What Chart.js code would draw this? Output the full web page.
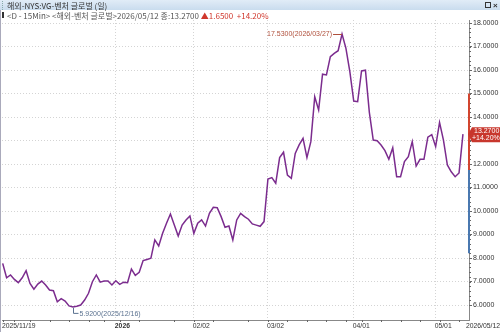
<!DOCTYPE html>
<html><head><meta charset="utf-8">
<script src="https://cdn.jsdelivr.net/npm/chart.js@4.4.1/dist/chart.umd.min.js"></script>
<style>html,body{margin:0;padding:0;background:#fff;overflow:hidden;}canvas{display:block;}</style>
</head><body>
<canvas id="c" width="500" height="332"></canvas>
<script>
// ---- data ----
const dates = [
 '2025/11/19','2025/11/20','2025/11/21','2025/11/24','2025/11/25','2025/11/26','2025/11/28',
 '2025/12/01','2025/12/02','2025/12/03','2025/12/04','2025/12/05',
 '2025/12/08','2025/12/09','2025/12/10','2025/12/11','2025/12/12',
 '2025/12/15','2025/12/16','2025/12/17','2025/12/18','2025/12/19',
 '2025/12/22','2025/12/23','2025/12/24','2025/12/26',
 '2025/12/29','2025/12/30','2025/12/31',
 '2026/01/02','2026/01/05','2026/01/06','2026/01/07','2026/01/08','2026/01/09',
 '2026/01/12','2026/01/13','2026/01/14','2026/01/15','2026/01/16',
 '2026/01/20','2026/01/21','2026/01/22','2026/01/23',
 '2026/01/26','2026/01/27','2026/01/28','2026/01/29','2026/01/30',
 '2026/02/02','2026/02/03','2026/02/04','2026/02/05','2026/02/06',
 '2026/02/09','2026/02/10','2026/02/11','2026/02/12','2026/02/13',
 '2026/02/17','2026/02/18','2026/02/19','2026/02/20',
 '2026/02/23','2026/02/24','2026/02/25','2026/02/26','2026/02/27',
 '2026/03/02','2026/03/03','2026/03/04','2026/03/05','2026/03/06',
 '2026/03/09','2026/03/10','2026/03/11','2026/03/12','2026/03/13',
 '2026/03/16','2026/03/17','2026/03/18','2026/03/19','2026/03/20',
 '2026/03/23','2026/03/24','2026/03/25','2026/03/26','2026/03/27',
 '2026/03/30','2026/03/31',
 '2026/04/01','2026/04/02',
 '2026/04/06','2026/04/07','2026/04/08','2026/04/09','2026/04/10',
 '2026/04/13','2026/04/14','2026/04/15','2026/04/16','2026/04/17',
 '2026/04/20','2026/04/21','2026/04/22','2026/04/23','2026/04/24',
 '2026/04/27','2026/04/28','2026/04/29','2026/04/30',
 '2026/05/01','2026/05/04','2026/05/05','2026/05/06','2026/05/07','2026/05/08',
 '2026/05/11','2026/05/12'
];
const closes = [
 7.77,7.16,7.28,7.09,6.95,7.16,7.46,
 6.92,6.67,6.89,7.02,6.85,
 6.64,6.61,6.14,6.27,6.17,
 5.96,5.92,5.95,6.00,6.21,
 6.50,6.99,7.28,6.97,
 7.02,7.02,6.85,
 7.03,6.88,6.97,6.95,7.53,7.26,
 7.39,7.89,7.94,7.99,8.77,
 8.51,9.05,9.48,9.87,
 9.40,8.94,9.40,9.62,9.79,
 9.05,9.48,9.62,9.36,9.90,
 10.16,10.14,9.76,9.31,9.36,
 8.77,9.62,9.90,9.76,
 9.65,9.45,9.40,9.35,9.55,
 11.36,11.42,11.18,12.27,12.50,
 11.53,11.39,12.45,12.81,13.09,
 12.27,12.95,14.86,14.30,15.82,
 15.79,16.57,16.71,16.82,17.53,
 16.92,15.93,
 14.68,14.65,
 15.96,15.99,14.20,13.02,12.99,
 12.81,12.57,12.20,12.69,11.46,
 11.46,12.10,12.31,12.95,11.91,
 12.20,12.20,13.14,13.25,
 12.74,13.77,13.02,11.96,11.67,11.46,
 11.62,13.27
];
const yTicks = [6,7,8,9,10,11,12,13,14,15,16,17,18];
const xLabelDates = ['2025/11/19','2026/01/02','2026/02/02','2026/03/02','2026/04/01','2026/05/01','2026/05/12'];
const xLabelTexts = ['2025/11/19','2026','02/02','03/02','04/01','05/01','2026/05/12'];
const axisBands = [
  {from: 15.0, to: 11.75, color: '#d2452f'},
  {from: 11.75, to: 8.2, color: '#4a78b0'}
];
const titleText = '해외-NYS:VG-벤처 글로벌 (일)';
const legendPrefix = '<D - 15Min> <해외-벤처 글로벌>';

// ---- helpers ----
const FONT = "'Liberation Sans', Arial, sans-serif";
const KFONT = "'Noto Sans CJK KR', 'Liberation Sans', sans-serif";
const xIdx = xLabelDates.map(d => dates.indexOf(d));
const last = closes[closes.length - 1];
const prev = closes[closes.length - 2];
const chg = last - prev;
const pct = chg / prev * 100;
let iMax = 0, iMin = 0;
closes.forEach((v, i) => { if (v > closes[iMax]) iMax = i; if (v < closes[iMin]) iMin = i; });

const deco = {
  id: 'deco',
  beforeDraw(chart) {
    const c = chart.ctx;
    c.save();
    c.fillStyle = '#fff';
    c.fillRect(0, 0, chart.width, chart.height);
    c.restore();
  },
  afterDraw(chart) {
    const c = chart.ctx;
    const xs = chart.scales.x, ys = chart.scales.y;
    const ca = chart.chartArea;
    c.save();
    // header bar
    const g = c.createLinearGradient(0, 0, 0, 10);
    g.addColorStop(0, '#e1ecf7'); g.addColorStop(1, '#c9dcee');
    c.fillStyle = g; c.fillRect(0, 0, 500, 10);
    c.fillStyle = '#8aa'; for (let y = 1; y < 10; y += 2) c.fillRect(2, y, 1, 1);
    c.fillStyle = '#333'; c.font = '8px ' + KFONT; c.textBaseline = 'middle'; c.textAlign = 'left';
    c.fillText(titleText, 7, 5.5);
    c.strokeStyle = '#333'; c.lineWidth = 1; c.strokeRect(485.5, 2.5, 5, 5);
    c.fillStyle = '#333'; c.font = 'bold 8px ' + FONT; c.fillText('×', 493, 5.5);
    // legend line
    c.fillStyle = '#333'; c.fillRect(2, 12, 2, 6);
    c.font = '8px ' + KFONT; c.fillStyle = '#555';
    const s1 = legendPrefix + dates[dates.length - 1] + ' 종:' + last.toFixed(4) + ' ';
    c.fillText(s1, 7, 15.5);
    let x = 7 + c.measureText(s1).width;
    c.fillStyle = '#d0372c';
    c.fillText('▲' + chg.toFixed(4) + '  +' + pct.toFixed(2) + '%', x, 15.5);
    // left border
    c.strokeStyle = '#aab'; c.beginPath(); c.moveTo(0.5, 10); c.lineTo(0.5, 332); c.stroke();
    // right axis minor ticks
    c.strokeStyle = '#666'; c.lineWidth = 1;
    for (let k = 0; k <= 12 * 5; k++) {
      const v = 6 + k * 0.2;
      const py = Math.round(ys.getPixelForValue(v)) + 0.5;
      c.beginPath(); c.moveTo(ca.right, py); c.lineTo(ca.right + 2, py); c.stroke();
    }
    // axis bands
    c.lineWidth = 2;
    axisBands.forEach(b => {
      c.strokeStyle = b.color; c.beginPath();
      c.moveTo(ca.right, ys.getPixelForValue(b.from)); c.lineTo(ca.right, ys.getPixelForValue(b.to)); c.stroke();
    });
    // x minor ticks (Mondays)
    c.lineWidth = 1; c.strokeStyle = '#666';
    dates.forEach((d, i) => {
      const dt = new Date(d.replace(/\//g, '-') + 'T00:00:00');
      if (dt.getDay() === 1 || i === 0) {
        const px = Math.round(xs.getPixelForValue(i)) + 0.5;
        c.beginPath(); c.moveTo(px, ca.bottom); c.lineTo(px, ca.bottom + 2); c.stroke();
      }
    });
    // x labels
    c.fillStyle = '#333'; c.textBaseline = 'middle';
    xLabelTexts.forEach((t, k) => {
      c.font = (t === '2026' ? 'bold ' : '') + '6.8px ' + FONT;
      let px;
      c.textAlign = 'left';
      if (k === 0) px = 2;
      else if (k === xLabelTexts.length - 1) { px = 500; c.textAlign = 'right'; }
      else px = xs.getPixelForValue(xIdx[k]) - 1;
      c.fillText(t, px, 326.5);
    });
    // current value box
    const cy = ys.getPixelForValue(last);
    c.fillStyle = '#c8372d';
    c.beginPath(); c.moveTo(ca.right - 1, cy); c.lineTo(ca.right + 3, cy - 7); c.lineTo(500, cy - 7);
    c.lineTo(500, cy + 8); c.lineTo(ca.right + 3, cy + 8); c.closePath(); c.fill();
    c.fillStyle = '#fff'; c.font = '7px ' + FONT; c.textAlign = 'left';
    c.fillText(last.toFixed(4), ca.right + 5, cy - 3);
    c.fillText('+' + pct.toFixed(2) + '%', ca.right + 3, cy + 4);
    // max annotation
    const mx = xs.getPixelForValue(iMax), my = ys.getPixelForValue(closes[iMax]);
    c.font = '7px ' + FONT; c.fillStyle = '#b0503c'; c.textAlign = 'right';
    const smax = closes[iMax].toFixed(4) + '(' + dates[iMax] + ')';
    c.fillText(smax, mx - 10, my + 0.5);
    c.strokeStyle = '#b0503c'; c.lineWidth = 1;
    c.beginPath(); c.moveTo(mx - 9, Math.round(my) + 0.5); c.lineTo(mx, Math.round(my) + 0.5); c.stroke();
    // min annotation
    const nx = xs.getPixelForValue(iMin), ny = ys.getPixelForValue(closes[iMin]);
    c.strokeStyle = '#5b7290'; c.fillStyle = '#5b7290';
    const lx = Math.round(nx) + 0.5;
    c.beginPath(); c.moveTo(lx, ny + 1); c.lineTo(lx, ny + 6.5); c.lineTo(lx + 5, ny + 6.5); c.stroke();
    c.textAlign = 'left';
    const smin = closes[iMin].toFixed(4) + '(' + dates[iMin] + ')';
    c.fillText(smin, lx + 6, ny + 7);
    c.restore();
  }
};

new Chart(document.getElementById('c'), {
  type: 'line',
  data: {
    datasets: [{
      data: closes.map((v, i) => ({x: i, y: v})),
      borderColor: '#7b2c8e',
      borderWidth: 1.5,
      pointRadius: 0,
      tension: 0,
      fill: false
    }]
  },
  options: {
    responsive: false,
    animation: false,
    devicePixelRatio: 1,
    layout: {padding: {top: 20, left: 2, right: 0, bottom: 0}},
    plugins: {legend: {display: false}, tooltip: {enabled: false}},
    scales: {
      x: {
        type: 'linear', min: -0.18, max: 119.55,
        afterBuildTicks: s => { s.ticks = xIdx.map(v => ({value: v})); },
        afterFit: s => { s.height = 12; },
        ticks: {display: false},
        grid: {
          color: ctx => (ctx.index > 0 && ctx.index < xIdx.length - 1) ? '#d4d4d4' : 'rgba(0,0,0,0)',
          drawTicks: false, lineWidth: 1
        },
        border: {color: '#888', dash: [1, 2]}
      },
      y: {
        position: 'right', min: 5.362, max: 18.128,
        afterBuildTicks: s => { s.ticks = yTicks.map(v => ({value: v})); },
        afterFit: s => { s.width = 31; },
        ticks: {font: {size: 7, family: FONT}, color: '#333', padding: 1, callback: v => Number(v).toFixed(4)},
        grid: {color: '#d4d4d4', tickLength: 3, tickColor: '#666', lineWidth: 1},
        border: {color: '#888', dash: [1, 2]}
      }
    }
  },
  plugins: [deco]
});
</script>
</body></html>
